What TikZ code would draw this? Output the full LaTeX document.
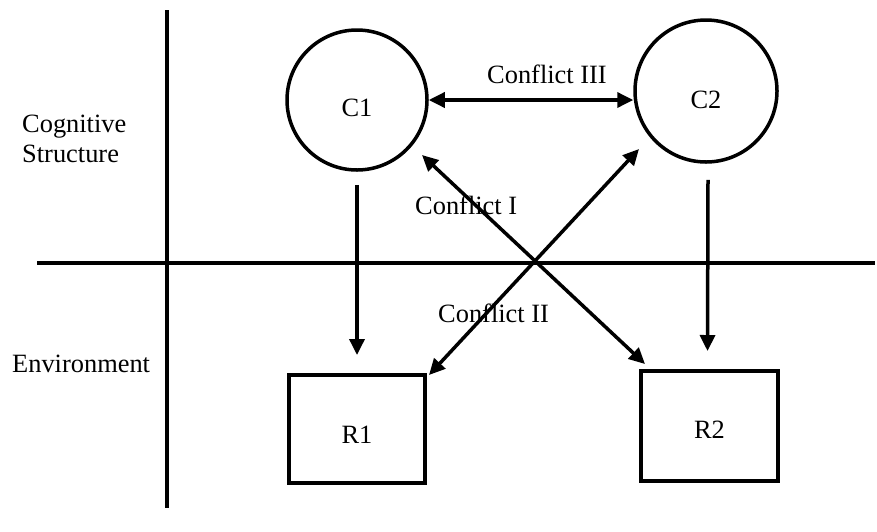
\documentclass[tikz,border=0pt]{standalone}
\usepackage{fontspec}
\setmainfont{Liberation Serif}
\usetikzlibrary{arrows.meta,calc}
\newcommand{\lowered}[2]{\raisebox{#1}[0pt][0pt]{#2}}
\begin{document}
\begin{tikzpicture}[x=1pt,y=-1pt,
  every node/.style={font=\fontsize{26.4}{30}\selectfont},
  rule/.style={line width=4pt},
  cnode/.style={draw,circle,line width=3.5pt,minimum size=140pt,inner sep=0pt},
  rnode/.style={draw,rectangle,line width=4pt,inner sep=0pt},
  arr/.style={line width=3.5pt,-{Triangle[length=16pt,width=15pt]}},
  darr/.style={line width=3.5pt,{Triangle[length=16pt,width=15pt]}-{Triangle[length=16pt,width=15pt]}},
  lbl/.style={inner sep=0pt,anchor=base west}]
\useasboundingbox (0,0) rectangle (877,531);
% axes
\coordinate (vtop) at (167,10);
\coordinate (vbot) at (167,508);
\coordinate (hl) at (37,263);
\coordinate (hr) at (875,263);
\draw[rule] (vtop) -- (vbot);
\draw[rule] (hl) -- (hr);
% nodes
\node[cnode] (C1) at (357,100) {\lowered{-16.7pt}{C1}};
\node[cnode,minimum size=142pt] (C2) at (706,91) {\lowered{-17.7pt}{C2}};
\node[rnode,minimum width=136pt,minimum height=108pt] (R1) at (357,429) {\lowered{-14.7pt}{R1}};
\node[rnode,minimum width=137pt,minimum height=110pt] (R2) at (709.5,426) {\lowered{-12.7pt}{R2}};
% labels
\node[inner sep=0pt,anchor=north west,align=left] (cs) at (22,115) {Cognitive\\Structure};
\node[lbl] (env) at (12,372) {Environment};
\node[lbl] (c3) at (487,83) {Conflict III};
\node[lbl] (c1l) at (415,214) {Conflict I};
\node[lbl] (c2l) at (438,322) {Conflict II};
% connectors
\draw[arr] ([yshift=-13pt]C1.south) -- ([yshift=18pt]R1.north);
\draw[arr] ($(C2.south)+(2,16)$) -- ($(R2.north)+(-2,-18)$);
\draw[darr] (C1.east |- C1) -- (C1 -| C2.west);
\draw[darr] ($(C1)+(65,55)$) -- ($(R2.north west)+(6,-5)$);
\draw[darr] ($(R1.north east)+(2,2)$) -- ($(C2)+(-67,58)$);
\end{tikzpicture}
\end{document}
